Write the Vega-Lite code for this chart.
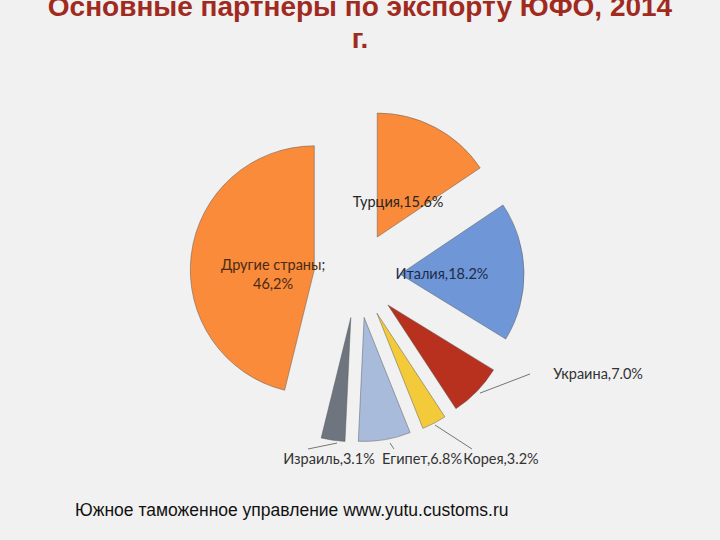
{
  "$schema": "https://vega.github.io/schema/vega-lite/v6.json",
  "width": 720,
  "height": 540,
  "padding": 0,
  "autosize": "none",
  "background": "#F1F1F1",
  "config": {"view": {"stroke": null}},
  "title": {
    "text": ["Основные партнеры по экспорту ЮФО, 2014", "г."],
    "anchor": "middle",
    "frame": "group",
    "baseline": "top",
    "offset": 6,
    "dy": 60,
    "font": "Liberation Sans",
    "fontSize": 28,
    "fontWeight": "bold",
    "color": "#A02A1E",
    "lineHeight": 32
  },
  "datasets": {
    "shares": [
      {"i": 1, "country": "Турция", "share": 15.6},
      {"i": 2, "country": "Италия", "share": 18.2},
      {"i": 3, "country": "Украина", "share": 7.0},
      {"i": 4, "country": "Корея", "share": 3.2},
      {"i": 5, "country": "Египет", "share": 6.8},
      {"i": 6, "country": "Израиль", "share": 3.1},
      {"i": 7, "country": "Другие страны", "share": 46.2}
    ],
    "labels": [
      {"label": "Турция,15.6%", "group": "in", "lx": 0.331, "ly": 0.581},
      {"label": "Италия,18.2%", "group": "it", "lx": 0.685, "ly": 0.0},
      {"label": "Другие страны;\n46,2%", "group": "other", "lx": -0.677, "ly": 0.073},
      {"label": "Украина,7.0%", "group": "out", "lx": 1.944, "ly": -0.806},
      {"label": "Израиль,3.1%", "group": "out", "lx": -0.226, "ly": -1.492},
      {"label": "Египет,6.8%", "group": "out", "lx": 0.524, "ly": -1.492},
      {"label": "Корея,3.2%", "group": "out", "lx": 1.161, "ly": -1.492}
    ],
    "leaders": [
      {"country": "Украина", "x1": 1.395, "y1": -0.798, "x2": 0.992, "y2": -0.952},
      {"country": "Корея", "x1": 0.927, "y1": -1.403, "x2": 0.629, "y2": -1.21},
      {"country": "Египет", "x1": 0.298, "y1": -1.403, "x2": 0.266, "y2": -1.355},
      {"country": "Израиль", "x1": -0.395, "y1": -1.403, "x2": -0.161, "y2": -1.355}
    ],
    "caption": [
      {"text": "Южное таможенное управление www.yutu.customs.ru", "cx": -2.274, "cy": -1.944}
    ]
  },
  "layer": [
    {
      "data": {"name": "shares"},
      "transform": [
        {"window": [{"op": "sum", "field": "share", "as": "cum"}], "sort": [{"field": "i"}], "frame": [null, 0]},
        {"calculate": "datum.cum - datum.share", "as": "start"},
        {"calculate": "(datum.start + datum.share / 2) / 100.1 * 2 * PI", "as": "mid"},
        {"calculate": "0.347 * sin(datum.mid)", "as": "ex"},
        {"calculate": "0.347 * cos(datum.mid)", "as": "ey"}
      ],
      "mark": {"type": "arc", "radius": 124, "stroke": "#5a5a5a", "strokeWidth": 0.7, "strokeOpacity": 0.7},
      "encoding": {
        "theta": {"field": "start", "type": "quantitative", "stack": null, "scale": {"domain": [0, 100.1], "range": [0, 6.283185307]}},
        "theta2": {"field": "cum"},
        "x": {"field": "ex", "type": "quantitative", "scale": {"domain": [-2.879, 2.927], "nice": false, "zero": false}, "axis": null},
        "y": {"field": "ey", "type": "quantitative", "scale": {"domain": [-2.137, 2.218], "nice": false, "zero": false}, "axis": null},
        "color": {
          "field": "country",
          "type": "nominal",
          "scale": {
            "domain": ["Турция", "Италия", "Украина", "Корея", "Египет", "Израиль", "Другие страны"],
            "range": ["#F98B3B", "#6F97D8", "#B8301E", "#F3CB3A", "#A9BBDA", "#6E757E", "#F98B3B"]
          },
          "legend": null
        }
      }
    },
    {
      "data": {"name": "leaders"},
      "mark": {"type": "rule", "color": "#555555", "strokeWidth": 0.8},
      "encoding": {
        "x": {"field": "x1", "type": "quantitative", "scale": {"domain": [-2.879, 2.927], "nice": false, "zero": false}, "axis": null},
        "y": {"field": "y1", "type": "quantitative", "scale": {"domain": [-2.137, 2.218], "nice": false, "zero": false}, "axis": null},
        "x2": {"field": "x2"},
        "y2": {"field": "y2"}
      }
    },
    {
      "data": {"name": "labels"},
      "mark": {"type": "text", "font": "Lato", "fontSize": 14.5, "align": "center", "baseline": "middle", "lineBreak": "\n", "lineHeight": 19},
      "encoding": {
        "x": {"field": "lx", "type": "quantitative", "scale": {"domain": [-2.879, 2.927], "nice": false, "zero": false}, "axis": null},
        "y": {"field": "ly", "type": "quantitative", "scale": {"domain": [-2.137, 2.218], "nice": false, "zero": false}, "axis": null},
        "text": {"field": "label", "type": "nominal"},
        "color": {
          "field": "group",
          "type": "nominal",
          "scale": {"domain": ["in", "it", "other", "out"], "range": ["#262626", "#1E2B48", "#4A2A14", "#333333"]},
          "legend": null
        }
      }
    },
    {
      "data": {"name": "caption"},
      "mark": {"type": "text", "font": "Liberation Sans", "fontSize": 17.5, "align": "left", "baseline": "alphabetic", "color": "#111111"},
      "encoding": {
        "x": {"field": "cx", "type": "quantitative", "scale": {"domain": [-2.879, 2.927], "nice": false, "zero": false}, "axis": null},
        "y": {"field": "cy", "type": "quantitative", "scale": {"domain": [-2.137, 2.218], "nice": false, "zero": false}, "axis": null},
        "text": {"field": "text", "type": "nominal"}
      }
    }
  ],
  "resolve": {"scale": {"color": "independent"}}
}
